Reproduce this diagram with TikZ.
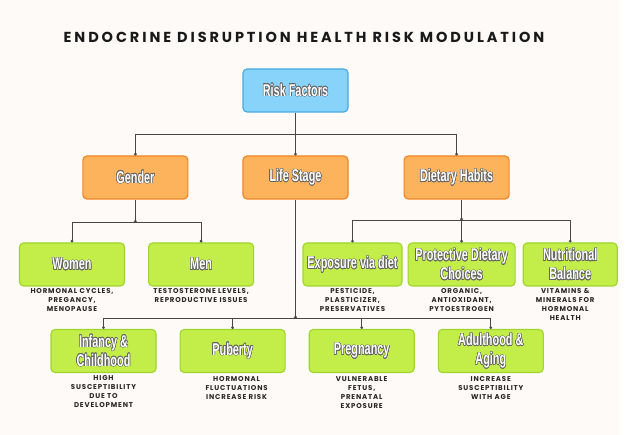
\documentclass[tikz,border=0pt]{standalone}
\usepackage{fontspec}
\usepackage{contour}
\usetikzlibrary{positioning}
\usetikzlibrary{arrows.meta}
\setmainfont{Poppins}
\newfontfamily\titlefont[LetterSpace=20]{Poppins}
\newfontfamily\notefont[LetterSpace=12]{Poppins}
\newfontfamily\boxfont[FakeStretch=0.64]{Liberation Sans}
\contourlength{0.55pt}
\definecolor{paper}{RGB}{254,250,247}
\definecolor{rootfill}{RGB}{135,211,249}
\definecolor{rootline}{RGB}{72,168,224}
\definecolor{catfill}{RGB}{253,179,92}
\definecolor{catline}{RGB}{245,130,32}
\definecolor{leaffill}{RGB}{195,238,74}
\definecolor{leafline}{RGB}{158,214,43}
\definecolor{shade}{RGB}{100,100,100}
\newcommand{\lbl}[1]{\contour{shade}{#1}}
\tikzset{rootbox/.style={rectangle,rounded corners=4pt,draw=rootline,fill=rootfill,line width=1.1pt,
inner sep=0pt,minimum height=43pt,minimum width=105pt,text=white,align=center,
font=\boxfont\bfseries\fontsize{17}{19}\selectfont}}
\tikzset{catbox/.style={rootbox,draw=catline,fill=catfill}}
\tikzset{leafbox/.style={rootbox,draw=leafline,fill=leaffill}}
\tikzset{note/.style={inner sep=0pt,align=center,text=black!85,
font=\notefont\bfseries\fontsize{7}{9}\selectfont}}
\tikzset{link/.style={draw=black!72,line width=1pt}}
\tikzset{joint/.style={-{Circle[length=2.6pt]}}}

\begin{document}
\begin{tikzpicture}[x=1pt,y=-1pt]
    \useasboundingbox (0,0) rectangle (640,435);
    \fill[white] (0,0) rectangle (640,435);
    \fill[paper] (0,0) rectangle (619,435);

    \node[font=\titlefont\bfseries\fontsize{14.5}{16}\selectfont,text=black!90] (title) at (304,37) {ENDOCRINE DISRUPTION HEALTH RISK MODULATION};

    \node[rootbox] (risk) at (295.5,90.5) {\lbl{Risk Factors}};

    \node[catbox] (lifestage) at (295.5,177.5) {\lbl{Life Stage}};
    \node[catbox] (gender) [left=54pt of lifestage] {\lbl{Gender}};
    \node[catbox] (dietary) [right=55pt of lifestage] {\lbl{Dietary Habits}};

    \node[leafbox] (women) at (72,264.5) {\lbl{Women}};
    \node[leafbox] (men) [right=23pt of women] {\lbl{Men}};

    \node[leafbox,minimum width=99pt] (exposure) at (352.5,264.5) {\lbl{Exposure via diet}};
    \node[leafbox,minimum width=107pt] (protective) [right=5pt of exposure] {\lbl{Protective Dietary}\\\lbl{Choices}};
    \node[leafbox,minimum width=94pt] (nutrition) [right=7pt of protective] {\lbl{Nutritional}\\\lbl{Balance}};

    \node[leafbox] (infancy) at (103.5,351) {\lbl{Infancy \&}\\\lbl{Childhood}};
    \node[leafbox] (puberty) [right=23pt of infancy] {\lbl{Puberty}};
    \node[leafbox] (pregnancy) [right=23pt of puberty] {\lbl{Pregnancy}};
    \node[leafbox] (adulthood) [right=23pt of pregnancy] {\lbl{Adulthood \&}\\\lbl{Aging}};

    \node[note] (womennote) [below=2pt of women] {HORMONAL CYCLES,\\PREGANCY,\\MENOPAUSE};
    \node[note] (mennote) [below=2pt of men] {TESTOSTERONE LEVELS,\\REPRODUCTIVE ISSUES};
    \node[note] (exposurenote) [below=2pt of exposure] {PESTICIDE,\\PLASTICIZER,\\PRESERVATIVES};
    \node[note] (protectivenote) [below=2pt of protective] {ORGANIC,\\ANTIOXIDANT,\\PYTOESTROGEN};
    \node[note] (nutritionnote) [below=2pt of nutrition,xshift=-5pt] {VITAMINS \&\\MINERALS FOR\\HORMONAL\\HEALTH};
    \node[note] (infancynote) [below=2pt of infancy] {HIGH\\SUSCEPTIBILITY\\DUE TO\\DEVELOPMENT};
    \node[note] (pubertynote) [below=3pt of puberty,xshift=4pt] {HORMONAL\\FLUCTUATIONS\\INCREASE RISK};
    \node[note] (pregnancynote) [below=3pt of pregnancy] {VULNERABLE\\FETUS,\\PRENATAL\\EXPOSURE};
    \node[note] (adulthoodnote) [below=3pt of adulthood] {INCREASE\\SUSCEPTIBILITY\\WITH AGE};

    % top level
    \coordinate (riskbus) at ([yshift=-22pt]risk.south);
    \draw[link,joint] (risk.south) -- (lifestage.north);
    \draw[link,joint] (riskbus) -| (gender.north);
    \draw[link,joint] (riskbus) -| (dietary.north);

    % gender
    \coordinate (genderbus) at ([yshift=-23pt]gender.south);
    \draw[link,joint] (gender.south) -- (genderbus);
    \draw[link,joint] (genderbus) -| (women.north);
    \draw[link,joint] (genderbus) -| (men.north);

    % dietary habits
    \coordinate (dietbus) at ([yshift=22pt]protective.north);
    \draw[link,joint] (dietary.south -| protective.north) -- (dietbus);
    \draw[link,joint] (dietbus) -- (protective.north);
    \draw[link,joint] (dietbus) -| (exposure.north);
    \draw[link,joint] (dietbus) -| (nutrition.north);

    % life stage
    \coordinate (stagebus) at ([yshift=-119pt]lifestage.south);
    \draw[link,joint] (lifestage.south) -- (stagebus);
    \draw[link,joint] (stagebus) -| (infancy.north);
    \draw[link,joint] (stagebus) -| (puberty.north);
    \draw[link,joint] (stagebus) -| (pregnancy.north);
    \draw[link,joint] (stagebus) -| (adulthood.north);

\end{tikzpicture}
\end{document}
